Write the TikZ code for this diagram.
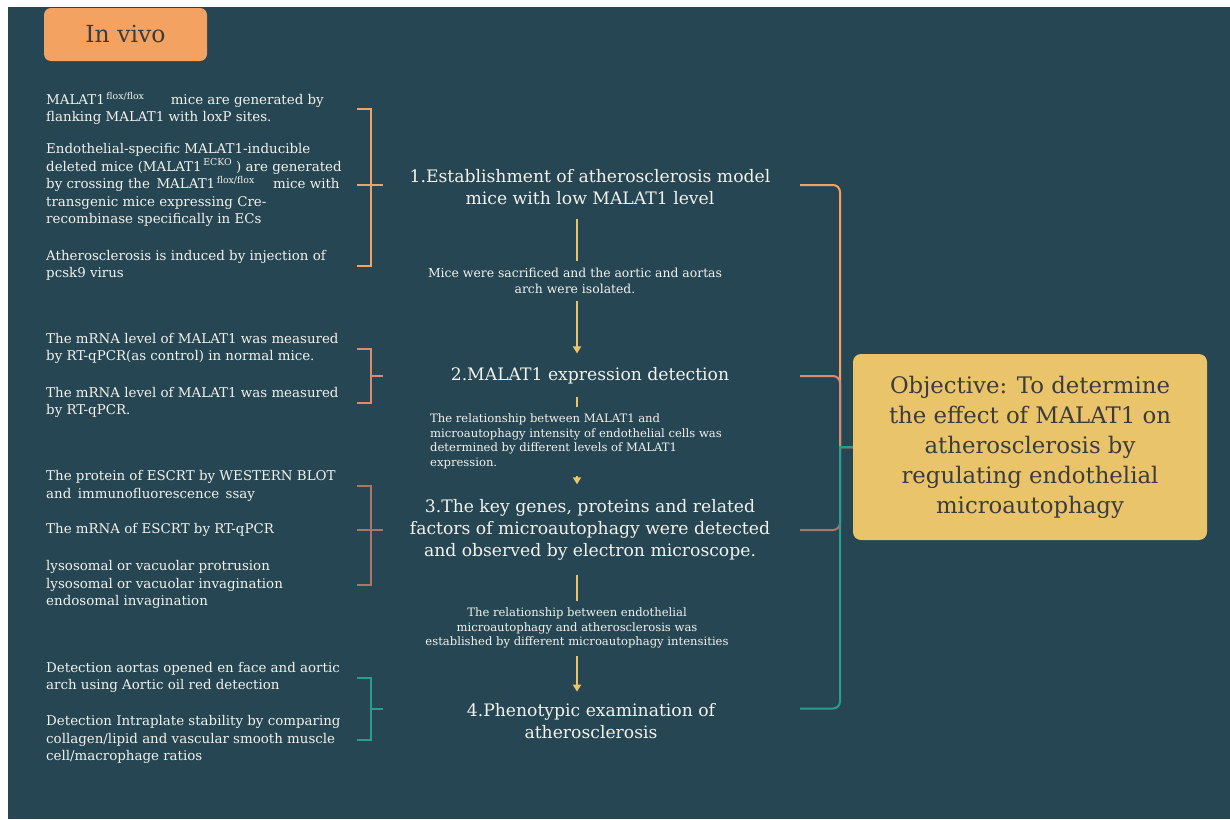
\documentclass[tikz,border=0pt]{standalone}
\usepackage{fontspec}
\setmainfont{DejaVu Serif}
\usetikzlibrary{positioning, arrows.meta, calc}
\definecolor{bgdark}{HTML}{264653}
\definecolor{gold}{HTML}{E9C46A}
\definecolor{sand}{HTML}{F4A261}
\definecolor{salmon}{HTML}{D98B74}
\definecolor{clay}{HTML}{A77868}
\definecolor{teal2}{HTML}{2A9D8F}
\definecolor{paper}{HTML}{F2F2EC}
\definecolor{ink}{HTML}{3C3C3C}

\begin{document}
\begin{tikzpicture}[x=1pt, y=-1pt,
    leaf/.style={anchor=west, align=left, inner sep=0pt, text=paper, font=\fontsize{13.4}{17.5}\selectfont},
    stepbox/.style={align=center, inner sep=0pt, text=paper, font=\fontsize{17.2}{22}\selectfont},
    note/.style={align=center, fill=bgdark, inner xsep=2pt, inner ysep=7pt, text=paper, font=\fontsize{11.6}{14.8}\selectfont},
    brk/.style={line width=2pt},
    link/.style={line width=2pt},
    arrow/.style={gold, line width=1.8pt, -{Triangle[width=8pt,length=7pt]}}]
\useasboundingbox (0,0) rectangle (1230,819);
\fill[white] (0,0) rectangle (1230,819);
\fill[bgdark] (8,7) rectangle (1230,819);

\node[fill=sand, rounded corners=7pt, minimum width=163pt, minimum height=53pt, text=ink, font=\fontsize{23.5}{26}\selectfont] (invivo) at (125.5,34.5) {In vivo};

% left column
\node[leaf] (ev1a) at (46,108.5) {MALAT1\textsuperscript{\,flox/flox}\hspace{22pt} mice are generated by\\flanking MALAT1 with loxP sites.};
\node[leaf] (ev1b) at (46,185) {Endothelial-specific MALAT1-inducible\\deleted mice (MALAT1\textsuperscript{\,ECKO}\hspace{4pt}) are generated\\by crossing the\, MALAT1\textsuperscript{\,flox/flox}\hspace{14pt} mice with\\transgenic mice expressing Cre-\\recombinase specifically in ECs};
\node[leaf] (ev1c) at (46,265.5) {Atherosclerosis is induced by injection of\\pcsk9 virus};
\node[leaf] (ev2a) at (46,348.5) {The mRNA level of MALAT1 was measured\\by RT-qPCR(as control) in normal mice.};
\node[leaf] (ev2b) at (46,402.5) {The mRNA level of MALAT1 was measured\\by RT-qPCR.};
\node[leaf] (ev3a) at (46,486) {The protein of ESCRT by WESTERN BLOT\\and\, immunofluorescence\, ssay};
\node[leaf] (ev3b) at (46,530) {The mRNA of ESCRT by RT-qPCR};
\node[leaf] (ev3c) at (46,584.5) {lysosomal or vacuolar protrusion\\lysosomal or vacuolar invagination\\endosomal invagination};
\node[leaf] (ev4a) at (46,677.5) {Detection aortas opened en face and aortic\\arch using Aortic oil red detection};
\node[leaf] (ev4b) at (46,739.5) {Detection Intraplate stability by comparing\\collagen/lipid and vascular smooth muscle\\cell/macrophage ratios};

% middle column
\node[stepbox] (step1) at (590,187) {1.Establishment of atherosclerosis model\\mice with low MALAT1 level};
\node[stepbox] (step2) at (590,376) {2.MALAT1 expression detection};
\node[stepbox] (step3) at (590,530) {3.The key genes, proteins and related\\factors of microautophagy were detected\\and observed by electron microscope.};
\node[stepbox] (step4) at (591,721.5) {4.Phenotypic examination of\\atherosclerosis};

\node[fill=gold, rounded corners=8pt, minimum width=354pt, minimum height=186pt, align=center, text=ink, font=\fontsize{22.8}{30}\selectfont] (obj) at (1030,447) {Objective: To determine\\the effect of MALAT1 on\\atherosclerosis by\\regulating endothelial\\microautophagy};

% arrows, partly hidden by the notes
\coordinate (ax) at (577,0);
\draw[arrow] (step1.south -| ax) ++(0,14) -- ([yshift=14pt]step2.north -| ax);
\draw[arrow] (step2.south -| ax) ++(0,12) -- ([yshift=15pt]step3.north -| ax);
\draw[arrow] (step3.south -| ax) ++(0,14) -- ([yshift=12pt]step4.north -| ax);
\node[note, font=\fontsize{12.4}{16}\selectfont] (note1) at (575,281) {Mice were sacrificed and the aortic and aortas\\arch were isolated.};
\node[note, align=left, font=\fontsize{11.6}{14.5}\selectfont] (note2) at (576,441.5) {The relationship between MALAT1 and\\microautophagy intensity of endothelial cells was\\determined by different levels of MALAT1\\expression.};
\node[note] (note3) at (577,628) {The relationship between endothelial\\microautophagy and atherosclerosis was\\established by different microautophagy intensities};

% left brackets
\coordinate (bl) at (357,0);
\coordinate (bx) at (371,0);
\coordinate (bs) at (383,0);
\coordinate (m2) at ($(ev2a.west)!.5!(ev2b.west)$);
\coordinate (m4) at ($(ev4a.west)!.5!(ev4b.west)$);
\draw[brk, sand] (ev1a -| bl) -- (ev1a -| bx) -- (ev1c -| bx) -- (ev1c -| bl);
\draw[brk, sand] (ev1b -| bl) -- (ev1b -| bs);
\draw[brk, salmon] (ev2a -| bl) -- (ev2a -| bx) -- (ev2b -| bx) -- (ev2b -| bl);
\draw[brk, salmon] (m2 -| bx) -- (m2 -| bs);
\draw[brk, clay] (ev3a -| bl) -- (ev3a -| bx) -- (ev3c -| bx) -- (ev3c -| bl);
\draw[brk, clay] (ev3b -| bl) -- (ev3b -| bs);
\draw[brk, teal2] (ev4a -| bl) -- (ev4a -| bx) -- (ev4b -| bx) -- (ev4b -| bl);
\draw[brk, teal2] (m4 -| bx) -- (m4 -| bs);

% right bracket to the objective
\coordinate (rs) at (800,0);
\coordinate (rv) at (840,0);
\draw[link, sand] (ev1b -| rs) [rounded corners=7pt] -- (ev1b -| rv) [sharp corners] -- (obj.west -| rv) -- (obj.west);
\draw[link, clay] (step3 -| rs) [rounded corners=7pt] -- (step3 -| rv) [sharp corners] -- (obj.west -| rv) -- (obj.west);
\draw[link, salmon] (step2 -| rs) [rounded corners=7pt] -- (step2 -| rv) [sharp corners] -- (obj.west -| rv) -- (obj.west);
\draw[link, teal2] (m4 -| rs) [rounded corners=7pt] -- (m4 -| rv) [sharp corners] -- (obj.west -| rv) -- (obj.west);
\end{tikzpicture}
\end{document}
